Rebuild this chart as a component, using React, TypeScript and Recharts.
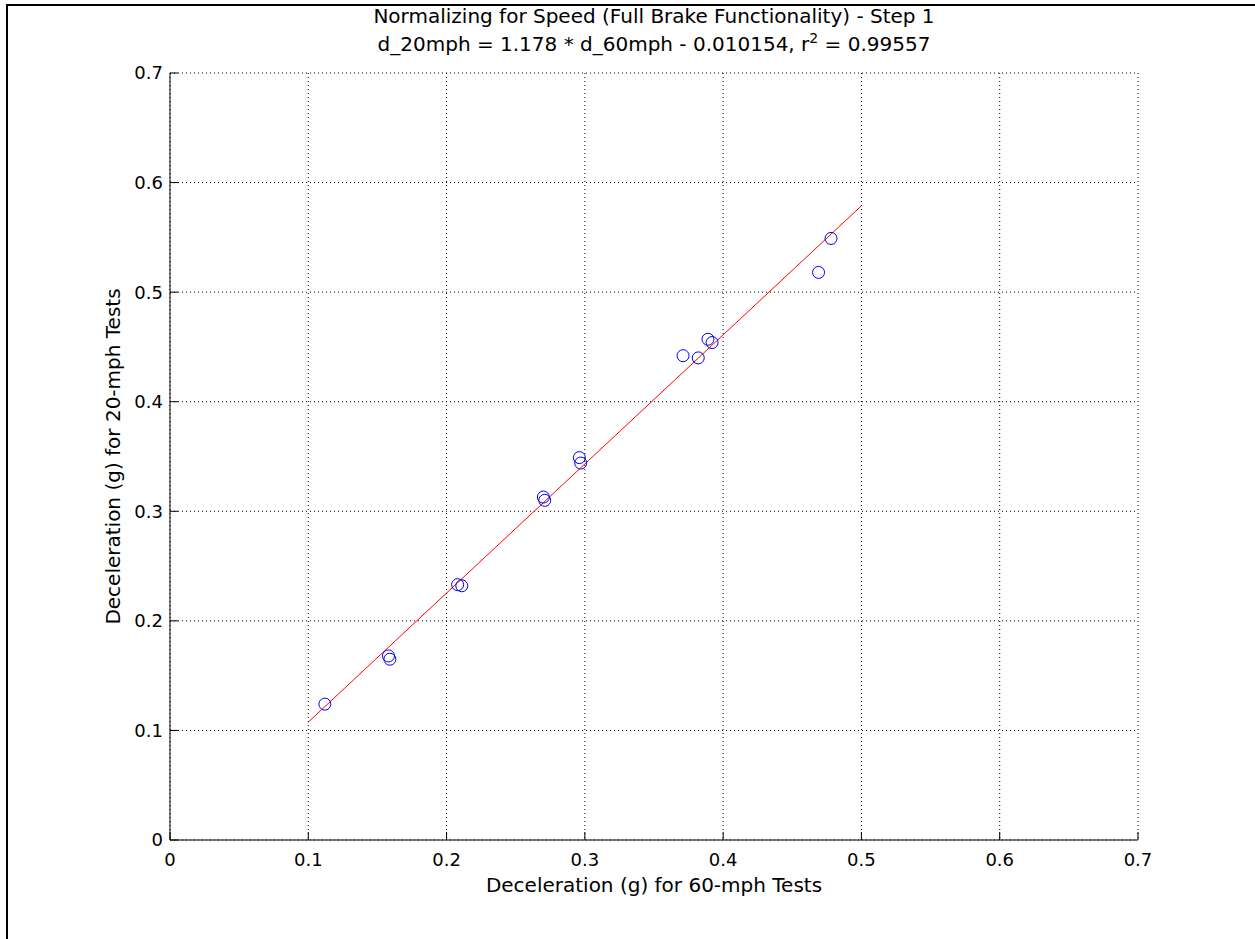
import React from 'react';
import { ScatterChart, Scatter, XAxis, YAxis, CartesianGrid } from 'recharts';

const x60mph = [0.112, 0.158, 0.159, 0.208, 0.211, 0.270, 0.271, 0.296, 0.297, 0.371, 0.382, 0.389, 0.392, 0.469, 0.478];
const y20mph = [0.124, 0.168, 0.165, 0.233, 0.232, 0.313, 0.310, 0.349, 0.344, 0.442, 0.440, 0.457, 0.454, 0.518, 0.549];
const fitX = [0.1, 0.5];
const fitY = [0.1076, 0.5788];
const axisTicks = [0, 0.1, 0.2, 0.3, 0.4, 0.5, 0.6, 0.7];
const titleLine1 = 'Normalizing for Speed (Full Brake Functionality) - Step 1';
const titleLine2 = 'd_20mph = 1.178 * d_60mph - 0.010154, r';
const titleLine2End = ' = 0.99557';
const xLabel = 'Deceleration (g) for 60-mph Tests';
const yLabel = 'Deceleration (g) for 20-mph Tests';

const points = x60mph.map((x, i) => ({ x, y: y20mph[i] }));
const fitPoints = fitX.map((x, i) => ({ x, y: fitY[i] }));

const FONT = '"DejaVu Sans", sans-serif';
const tickStyle = { fontSize: 18, fill: '#000', fontFamily: FONT };
const labelStyle = { fontSize: 20, fill: '#000', fontFamily: FONT };
const fmt = (v: number) => (v === 0 ? '0' : String(v));

const Circle = (props: any) => (
  <circle cx={props.cx} cy={props.cy} r={6} fill="none" stroke="#0000ee" strokeWidth={1} />
);
const NoShape = () => <g />;

export default function App() {
  return (
    <div style={{ position: 'absolute', left: 0, top: 0, width: 1255, height: 939, background: '#fff' }}>
      <div
        style={{
          position: 'absolute', left: 6, top: 4, width: 1249, height: 935,
          borderLeft: '2px solid #000', borderTop: '2px solid #000', boxSizing: 'border-box',
        }}
      />
      <div style={{ position: 'absolute', left: 120, width: 1068, top: 3, textAlign: 'center', fontFamily: FONT, fontSize: 20, lineHeight: '26px', color: '#000' }}>
        <div>{titleLine1}</div>
        <div style={{ marginTop: 2 }}>
          {titleLine2}
          <sup style={{ fontSize: 14, lineHeight: 0 }}>2</sup>
          {titleLine2End}
        </div>
      </div>
      <ScatterChart width={1255} height={939} margin={{ top: 73, right: 117, bottom: 39, left: 90 }}>
        <CartesianGrid stroke="#000" strokeDasharray="1 3" xAxisId="main" yAxisId="main" />
        <XAxis
          xAxisId="main" dataKey="x" type="number" domain={[0, 0.7]} ticks={axisTicks}
          allowDataOverflow height={60} stroke="#000" tickSize={-8} tickMargin={21}
          tick={tickStyle} tickFormatter={fmt}
          label={{ value: xLabel, position: 'insideBottom', offset: 8, style: labelStyle }}
        />
        <XAxis
          xAxisId="top" orientation="top" type="number" domain={[0, 0.7]} ticks={axisTicks}
          height={0} stroke="#000" tickSize={-8} tickFormatter={() => ''}
        />
        <YAxis
          yAxisId="main" dataKey="y" type="number" domain={[0, 0.7]} ticks={axisTicks}
          allowDataOverflow width={80} stroke="#000" tickSize={-8} tickMargin={15}
          tick={tickStyle} tickFormatter={fmt}
          label={{ value: yLabel, angle: -90, position: 'insideLeft', offset: 23, style: { ...labelStyle, textAnchor: 'middle' } }}
        />
        <YAxis
          yAxisId="right" orientation="right" type="number" domain={[0, 0.7]} ticks={axisTicks}
          width={0} stroke="#000" tickSize={-8} tickFormatter={() => ''}
        />
        <Scatter
          xAxisId="main" yAxisId="main" data={fitPoints} line={{ stroke: '#ff0000', strokeWidth: 1 }}
          lineType="joint" shape={NoShape} isAnimationActive={false}
        />
        <Scatter xAxisId="main" yAxisId="main" data={points} shape={Circle} isAnimationActive={false} />
      </ScatterChart>
    </div>
  );
}
